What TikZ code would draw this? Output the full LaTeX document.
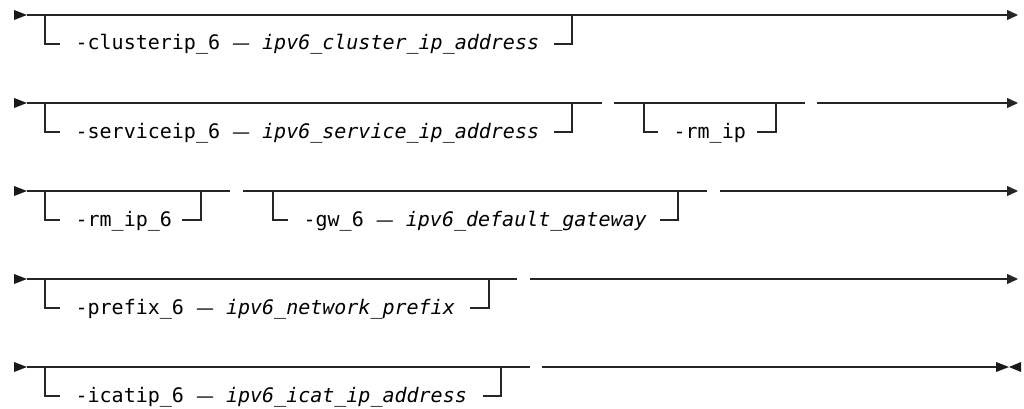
\documentclass[tikz,border=0pt]{standalone}
\usepackage{fontspec}
\setmonofont{DejaVu Sans Mono}
\newfontfamily\dashfont{DejaVu Sans}
\newcommand\sepdash{{\dashfont\fontsize{18}{18}\selectfont —}}
\usetikzlibrary{arrows.meta}
\begin{document}
\begin{tikzpicture}[x=1pt,y=-1pt,line width=1.2pt,
  rail/.style={draw=black!85},
  lbl/.style={inner sep=0pt,anchor=base west,font=\ttfamily\fontsize{20}{22}\selectfont},
  tipend/.style={-{Triangle[length=11pt,width=10pt]}},
  starttip/.style={fill=black!90,draw=none}]
\useasboundingbox (0,0) rectangle (1024,409);

% ---------- row 1 ----------
\coordinate (r1s) at (27,15);
\coordinate (r1e) at (1018,15);
\fill[starttip] (14,10) -- (r1s) -- (14,20) -- cycle;
\draw[rail,tipend] (r1s) -- (r1e);
\coordinate (b1a) at (45,15);
\coordinate (b1b) at (572,15);
\node[lbl] (t1) at (75,50) {-clusterip\_6 \sepdash{} \textit{ipv6\_cluster\_ip\_address}};
\draw[rail] (b1a) |- (60,44);
\draw[rail] (554,44) -| (b1b);

% ---------- row 2 ----------
\coordinate (r2s) at (27,103);
\coordinate (r2m1) at (602,103);
\coordinate (r2m2) at (614,103);
\coordinate (r2m3) at (805,103);
\coordinate (r2m4) at (817,103);
\coordinate (r2e) at (1018,103);
\fill[starttip] (14,98) -- (r2s) -- (14,108) -- cycle;
\draw[rail] (r2s) -- (r2m1);
\draw[rail] (r2m2) -- (r2m3);
\draw[rail,tipend] (r2m4) -- (r2e);
\coordinate (b2a) at (45,103);
\coordinate (b2b) at (572,103);
\node[lbl] (t2) at (75,138) {-serviceip\_6 \sepdash{} \textit{ipv6\_service\_ip\_address}};
\draw[rail] (b2a) |- (60,132);
\draw[rail] (554,132) -| (b2b);
\coordinate (b3a) at (644,103);
\coordinate (b3b) at (776,103);
\node[lbl] (t3) at (673,138) {-rm\_ip};
\draw[rail] (b3a) |- (658,132);
\draw[rail] (757,132) -| (b3b);

% ---------- row 3 ----------
\coordinate (r3s) at (27,191);
\coordinate (r3m1) at (230,191);
\coordinate (r3m2) at (243,191);
\coordinate (r3m3) at (707,191);
\coordinate (r3m4) at (720,191);
\coordinate (r3e) at (1018,191);
\fill[starttip] (14,186) -- (r3s) -- (14,196) -- cycle;
\draw[rail] (r3s) -- (r3m1);
\draw[rail] (r3m2) -- (r3m3);
\draw[rail,tipend] (r3m4) -- (r3e);
\coordinate (b4a) at (45,191);
\coordinate (b4b) at (201,191);
\node[lbl] (t4) at (75,226) {-rm\_ip\_6};
\draw[rail] (b4a) |- (60,220);
\draw[rail] (182,220) -| (b4b);
\coordinate (b5a) at (273,191);
\coordinate (b5b) at (678,191);
\node[lbl] (t5) at (303,226) {-gw\_6 \sepdash{} \textit{ipv6\_default\_gateway}};
\draw[rail] (b5a) |- (288,220);
\draw[rail] (660,220) -| (b5b);

% ---------- row 4 ----------
\coordinate (r4s) at (27,279);
\coordinate (r4m1) at (517,279);
\coordinate (r4m2) at (530,279);
\coordinate (r4e) at (1018,279);
\fill[starttip] (14,274) -- (r4s) -- (14,284) -- cycle;
\draw[rail] (r4s) -- (r4m1);
\draw[rail,tipend] (r4m2) -- (r4e);
\coordinate (b6a) at (45,279);
\coordinate (b6b) at (489,279);
\node[lbl] (t6) at (75,314) {-prefix\_6 \sepdash{} \textit{ipv6\_network\_prefix}};
\draw[rail] (b6a) |- (60,308);
\draw[rail] (470,308) -| (b6b);

% ---------- row 5 ----------
\coordinate (r5s) at (27,367);
\coordinate (r5m1) at (530,367);
\coordinate (r5m2) at (542,367);
\coordinate (r5e) at (996,367);
\fill[starttip] (14,362) -- (r5s) -- (14,372) -- cycle;
\draw[rail] (r5s) -- (r5m1);
\draw[rail] (r5m2) -- (r5e);
\fill[starttip] (996,362) -- (1009,367) -- (996,372) -- cycle;
\fill[starttip] (1021,362) -- (1009,367) -- (1021,372) -- cycle;
\coordinate (b7a) at (45,367);
\coordinate (b7b) at (501,367);
\node[lbl] (t7) at (75,402) {-icatip\_6 \sepdash{} \textit{ipv6\_icat\_ip\_address}};
\draw[rail] (b7a) |- (60,396);
\draw[rail] (483,396) -| (b7b);
\end{tikzpicture}
\end{document}
